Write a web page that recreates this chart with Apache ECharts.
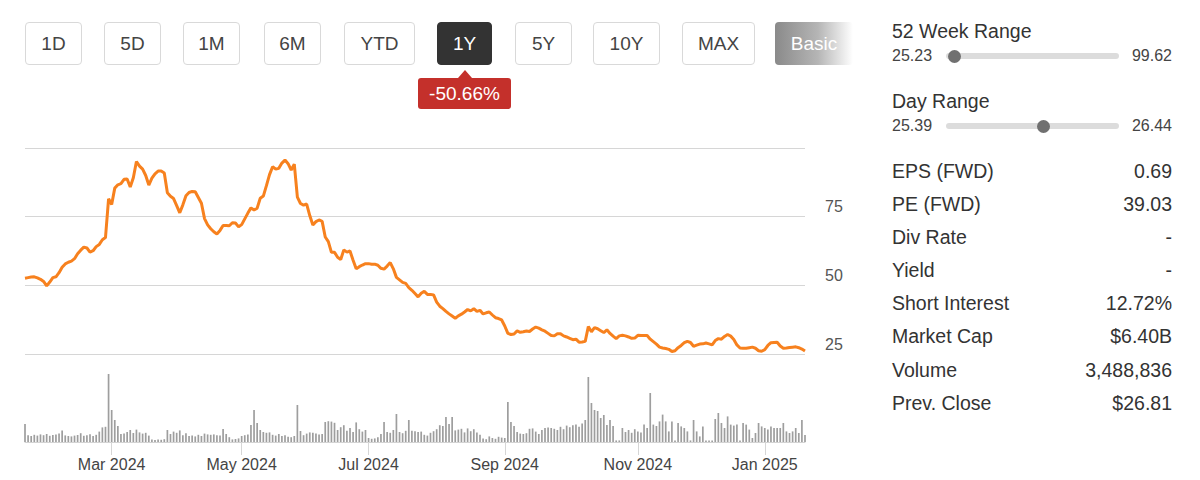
<!DOCTYPE html>
<html>
<head>
<meta charset="utf-8">
<script src="https://cdn.jsdelivr.net/npm/echarts@6/dist/echarts.min.js"></script>
<style>
  html,body{margin:0;padding:0;background:#fff;}
  body{width:1200px;height:480px;position:relative;overflow:hidden;font-family:"Liberation Sans",Arial,Helvetica,sans-serif;color:#333;}
  #chart{position:absolute;left:0;top:0;width:860px;height:480px;}
  .btn{position:absolute;top:22px;height:43px;border:1px solid #d9d9d9;border-radius:4px;box-sizing:border-box;
       font-size:19px;color:#444;display:flex;align-items:center;justify-content:center;background:#fff;}
  .btn.active{background:#333;color:#fff;border-color:#333;}
  .btn.basic{border:none;color:#fff;background:linear-gradient(to right,#8a8a8a 0%,#b5b5b5 55%,#ffffff 100%);}
  #chg{position:absolute;left:418px;top:78px;width:93px;height:31px;background:#c4302b;color:#fff;border-radius:3px;
       font-size:19px;display:flex;align-items:center;justify-content:center;}
  #chg:before{content:"";position:absolute;left:40px;top:-8px;border-left:7px solid transparent;border-right:7px solid transparent;border-bottom:8px solid #c4302b;}
  .lbl{position:absolute;left:892px;font-size:19.5px;color:#333;line-height:22px;}
  .val{position:absolute;right:28px;font-size:19.5px;color:#333;text-align:right;line-height:22px;}
  .sm{position:absolute;font-size:16px;color:#444;line-height:18px;}
  .track{position:absolute;left:946px;width:173px;height:6px;background:#dcdcdc;border-radius:3px;}
  .knob{position:absolute;width:13px;height:13px;border-radius:50%;background:#707070;}
</style>
</head>
<body>
<div id="chart"></div>

<div class="btn" style="left:25px;width:57px;">1D</div>
<div class="btn" style="left:104px;width:57px;">5D</div>
<div class="btn" style="left:183px;width:57px;">1M</div>
<div class="btn" style="left:264px;width:57px;">6M</div>
<div class="btn" style="left:344px;width:71px;">YTD</div>
<div class="btn active" style="left:437px;width:55px;">1Y</div>
<div class="btn" style="left:515px;width:57px;">5Y</div>
<div class="btn" style="left:593px;width:67px;">10Y</div>
<div class="btn" style="left:682px;width:73px;">MAX</div>
<div class="btn basic" style="left:775px;width:78px;">Basic</div>
<div id="chg">-50.66%</div>

<div class="lbl" style="top:20px;">52 Week Range</div>
<div class="sm" style="left:892px;top:47px;">25.23</div>
<div class="track" style="top:53px;"></div>
<div class="knob" style="left:948px;top:50px;"></div>
<div class="sm" style="right:28px;top:47px;">99.62</div>

<div class="lbl" style="top:90px;">Day Range</div>
<div class="sm" style="left:892px;top:117px;">25.39</div>
<div class="track" style="top:123px;"></div>
<div class="knob" style="left:1037px;top:120px;"></div>
<div class="sm" style="right:28px;top:117px;">26.44</div>

<div class="lbl" style="top:160px;">EPS (FWD)</div><div class="val" style="top:160px;">0.69</div>
<div class="lbl" style="top:193px;">PE (FWD)</div><div class="val" style="top:193px;">39.03</div>
<div class="lbl" style="top:226px;">Div Rate</div><div class="val" style="top:226px;">-</div>
<div class="lbl" style="top:259px;">Yield</div><div class="val" style="top:259px;">-</div>
<div class="lbl" style="top:292px;">Short Interest</div><div class="val" style="top:292px;">12.72%</div>
<div class="lbl" style="top:325px;">Market Cap</div><div class="val" style="top:325px;">$6.40B</div>
<div class="lbl" style="top:359px;">Volume</div><div class="val" style="top:359px;">3,488,836</div>
<div class="lbl" style="top:392px;">Prev. Close</div><div class="val" style="top:392px;">$26.81</div>

<script>
// ---- data ----
const startDate = '2024-01-22';
const holidays = ['2024-02-19','2024-03-29','2024-05-27','2024-06-19','2024-07-04','2024-09-02',
                  '2024-11-28','2024-12-25','2025-01-01','2025-01-20'];
const monthNames = ['Jan','Feb','Mar','Apr','May','Jun','Jul','Aug','Sep','Oct','Nov','Dec'];
const priceTicks = [25, 50, 75, 100];

const closes = [
  52.6, 52.8, 53.0, 53.1, 52.7, 52.2, 51.4, 49.8, 51.2, 52.8,
  53.1, 54.6, 56.6, 57.8, 58.4, 58.8, 59.7, 61.5, 62.8, 63.9,
  63.6, 62.1, 62.6, 64.1, 64.9, 66.6, 67.4, 81.5, 79.4, 85.4,
  86.6, 87.0, 88.6, 88.7, 85.8, 89.2, 95.1, 93.4, 92.3, 90.0,
  86.5, 89.0, 90.6, 91.6, 91.6, 90.9, 83.7, 82.4, 81.6, 79.0,
  76.4, 79.3, 82.6, 83.8, 84.2, 84.1, 82.0, 79.9, 74.3, 72.0,
  70.6, 69.5, 68.7, 70.0, 71.8, 71.8, 71.7, 72.8, 72.7, 71.3,
  72.1, 74.2, 76.3, 78.2, 77.4, 78.1, 81.7, 82.5, 86.3, 90.3,
  93.2, 92.3, 92.6, 94.5, 95.6, 94.3, 92.0, 94.1, 82.1, 79.8,
  79.2, 79.6, 75.4, 72.0, 73.2, 73.8, 73.3, 67.6, 65.9, 62.0,
  62.0, 60.2, 59.4, 62.9, 62.1, 62.5, 59.1, 56.0, 56.8, 57.4,
  57.9, 57.9, 57.7, 57.7, 57.3, 56.2, 55.9, 57.0, 58.3, 56.0,
  52.9, 52.0, 51.1, 50.7, 49.2, 48.2, 47.0, 45.8, 47.1, 47.8,
  46.7, 46.7, 46.5, 43.9, 42.4, 41.5, 40.5, 39.6, 38.8, 38.0,
  38.9, 39.5, 40.3, 41.2, 40.7, 41.5, 40.5, 40.9, 39.6, 40.0,
  40.3, 39.2, 38.2, 37.9, 37.4, 35.2, 32.5, 32.1, 32.3, 33.4,
  32.9, 33.1, 33.4, 33.2, 34.1, 34.8, 34.4, 33.8, 33.3, 32.5,
  31.7, 31.6, 32.4, 32.4, 31.6, 31.2, 30.7, 30.2, 30.4, 29.3,
  29.4, 29.6, 35.0, 33.1, 34.6, 34.2, 33.5, 32.8, 33.8, 32.5,
  31.5, 30.6, 31.6, 31.8, 31.6, 31.2, 30.7, 30.8, 31.8, 31.7,
  31.7, 31.7, 30.4, 29.5, 28.6, 27.5, 27.2, 27.0, 26.7, 25.9,
  26.2, 27.3, 28.1, 29.1, 29.6, 29.2, 27.8, 28.2, 28.6, 28.7,
  29.0, 28.7, 28.3, 29.9, 30.6, 30.4, 31.4, 32.1, 31.5, 30.3,
  28.3, 27.2, 27.1, 27.1, 27.3, 27.5, 27.1, 26.2, 26.0, 26.6,
  28.1, 29.1, 29.2, 29.3, 27.9, 27.1, 27.2, 27.4, 27.5, 27.6,
  27.3, 26.8, 26.1
];

// volume, millions of shares
const volumes = [
  9.0, 3.4, 3.0, 3.6, 3.2, 3.8, 3.4, 4.0, 3.1, 3.5,
  3.8, 4.2, 5.8, 3.3, 3.0, 2.8, 3.2, 3.5, 4.4, 3.1,
  3.4, 3.9, 3.0, 3.6, 5.2, 7.3, 7.6, 34.0, 16.0, 11.0,
  8.0, 4.0, 4.3, 5.0, 6.0, 4.5, 6.2, 4.8, 4.2, 4.6,
  3.2, 1.2, 1.0, 1.3, 1.1, 1.4, 6.0, 4.0, 5.2, 4.6,
  5.8, 3.4, 4.4, 3.0, 3.2, 2.8, 3.6, 3.0, 4.2, 3.8,
  3.6, 3.8, 3.4, 3.2, 6.5, 4.0, 2.4, 1.3, 1.5, 1.8,
  3.0, 3.4, 3.8, 8.5, 16.0, 9.5, 6.0, 5.0, 4.6, 4.8,
  3.6, 3.2, 4.0, 3.0, 3.4, 2.6, 2.4, 3.0, 18.5, 5.5,
  3.4, 4.2, 4.8, 4.6, 4.2, 3.8, 4.0, 10.0, 10.4, 10.2,
  9.6, 6.0, 7.4, 8.4, 5.6, 7.0, 5.0, 9.8, 6.4, 5.2,
  6.0, 2.0, 1.6, 1.8, 2.4, 4.0, 10.0, 5.0, 4.6, 6.0,
  14.0, 5.0, 4.4, 5.6, 11.0, 5.6, 5.4, 5.0, 5.2, 3.6,
  3.2, 4.6, 5.4, 6.4, 8.4, 8.0, 12.5, 9.0, 12.5, 5.8,
  6.2, 6.6, 4.8, 6.8, 5.4, 6.4, 4.8, 3.6, 1.8, 1.4,
  2.8, 2.0, 1.6, 2.6, 2.2, 2.0, 20.0, 10.0, 8.0, 5.0,
  4.2, 4.0, 4.4, 6.6, 6.8, 5.2, 4.0, 6.0, 7.0, 7.2,
  7.0, 6.6, 6.0, 7.6, 6.4, 8.2, 7.4, 8.4, 8.8, 7.6,
  9.2, 11.0, 32.5, 19.5, 16.0, 15.5, 12.0, 13.5, 8.5, 11.0,
  8.0, 0.8, 0.8, 7.0, 5.0, 6.0, 4.6, 6.4, 5.2, 4.8,
  8.7, 7.0, 24.5, 8.7, 8.0, 10.3, 13.7, 10.3, 5.3, 10.3,
  0.8, 9.5, 7.8, 7.0, 5.3, 0.8, 11.0, 5.3, 2.8, 7.8,
  0.8, 0.8, 0.8, 11.5, 14.5, 9.5, 7.0, 12.8, 8.7, 8.2,
  8.7, 0.8, 9.5, 8.7, 6.2, 2.0, 4.5, 9.5, 7.8, 7.0,
  6.2, 7.8, 7.0, 7.0, 7.0, 9.5, 5.3, 4.5, 5.3, 7.0,
  4.5, 11.0, 3.5
];

// ---- trading-day categories ----
function ymd(d){return d.getUTCFullYear()+'-'+String(d.getUTCMonth()+1).padStart(2,'0')+'-'+String(d.getUTCDate()).padStart(2,'0');}
const dates = [];
{
  const d = new Date(startDate + 'T00:00:00Z');
  while (dates.length < closes.length) {
    const wd = d.getUTCDay();
    const s = ymd(d);
    if (wd !== 0 && wd !== 6 && holidays.indexOf(s) < 0) dates.push(s);
    d.setUTCDate(d.getUTCDate() + 1);
  }
}
const tickIdx = new Set();
for (let i = 1; i < dates.length; i++) {
  const m = +dates[i].slice(5,7) - 1, pm = +dates[i-1].slice(5,7) - 1;
  if (m !== pm && m % 2 === 0) tickIdx.add(i);
}
const showTick = (i) => tickIdx.has(i);
const fmtDate = (v) => monthNames[+v.slice(5,7)-1] + ' ' + v.slice(0,4);

const chart = echarts.init(document.getElementById('chart'), null, {renderer:'svg'});
const FONT = '"Liberation Sans", Arial, sans-serif';
chart.setOption({
  animation: false,
  grid: [
    {left: 25, top: 148, width: 780, height: 206},
    {left: 25, top: 374, width: 780, height: 68}
  ],
  xAxis: [
    {type:'category', gridIndex:0, data: dates, boundaryGap:false, show:false},
    {type:'category', gridIndex:1, data: dates, boundaryGap:false,
     axisLine:{show:true, lineStyle:{color:'#d3d3d3', width:1}},
     axisTick:{show:true, length:13, interval:(i)=>showTick(i), lineStyle:{color:'#d6d6d6'}},
     axisLabel:{show:true, interval:(i)=>showTick(i), formatter: fmtDate, color:'#444',
                fontSize:16, fontFamily: FONT, margin:14}}
  ],
  yAxis: [
    {type:'value', gridIndex:0, position:'right', min: priceTicks[0], max: priceTicks[priceTicks.length-1], interval:25,
     axisLine:{show:false}, axisTick:{show:false},
     splitLine:{show:true, lineStyle:{color:'#d6d6d6', width:1}},
     axisLabel:{show:true, showMaxLabel:false, color:'#555', fontSize:16, fontFamily: FONT, margin:20,
                verticalAlign:'bottom', lineHeight:16, padding:[0,0,2,0]}},
    {type:'value', gridIndex:1, min:0, max:34, show:false, splitLine:{show:false}}
  ],
  series: [
    {type:'line', xAxisIndex:0, yAxisIndex:0, data: closes, showSymbol:false, symbol:'none',
     lineStyle:{color:'#f7811e', width:3}, itemStyle:{color:'#f7811e'}},
    {type:'bar', xAxisIndex:1, yAxisIndex:1, data: volumes, barWidth:1.7,
     itemStyle:{color:'#9e9e9e'}}
  ]
});
</script>
</body>
</html>
